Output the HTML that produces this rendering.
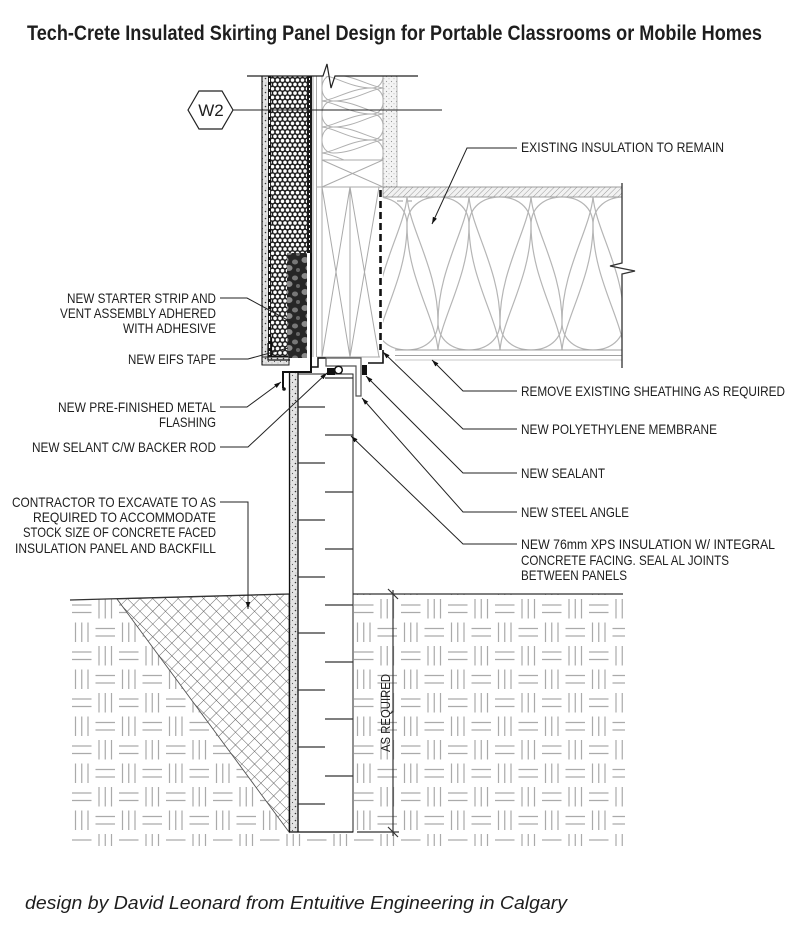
<!DOCTYPE html>
<html><head><meta charset="utf-8"><style>
html,body{margin:0;padding:0;background:#fff;}
svg{display:block;}
text{font-family:"Liberation Sans",sans-serif;fill:#1e1e1e;}
</style></head><body>
<svg width="800" height="933" viewBox="0 0 800 933" xmlns="http://www.w3.org/2000/svg">
<defs>
 <pattern id="soil" patternUnits="userSpaceOnUse" width="47" height="47" x="70" y="597">
  <g stroke="#aaaaaa" stroke-width="1.2" fill="none">
   <path d="M2 8H21.5M2 15.5H21.5"/>
   <path d="M29 2V21.5M35.25 2V21.5M41.5 2V21.5"/>
   <path d="M5.5 25.5V45M11.75 25.5V45M18 25.5V45"/>
   <path d="M25.5 31.5H45M25.5 39H45"/>
  </g>
 </pattern>
 <pattern id="hatch" patternUnits="userSpaceOnUse" width="9" height="9" patternTransform="rotate(45)">
  <rect width="9" height="9" fill="#fff"/>
  <path d="M0 0H9M0 0V9" stroke="#5a5a5a" stroke-width="0.9"/>
 </pattern>
 <pattern id="honey" patternUnits="userSpaceOnUse" width="5" height="8.66">
  <rect width="5" height="8.66" fill="#1c1c1c"/>
  <circle cx="2.5" cy="2.17" r="1.8" fill="#fff"/>
  <circle cx="0" cy="6.5" r="1.8" fill="#fff"/>
  <circle cx="5" cy="6.5" r="1.8" fill="#fff"/>
 </pattern>
 <pattern id="dots" patternUnits="userSpaceOnUse" width="6" height="7">
  <rect width="6" height="7" fill="#e4e4e4"/>
  <circle cx="1.5" cy="1.5" r="0.8" fill="#333"/>
  <circle cx="4.5" cy="4.5" r="0.6" fill="#555"/>
  <circle cx="2" cy="6" r="0.4" fill="#777"/>
 </pattern>
 <pattern id="rock" patternUnits="userSpaceOnUse" width="20" height="16">
  <rect width="20" height="16" fill="#262626"/>
  <ellipse cx="5" cy="4" rx="3.5" ry="3" fill="#8a8a8a"/>
  <ellipse cx="15" cy="6" rx="3" ry="2.5" fill="#777"/>
  <ellipse cx="9" cy="12" rx="3.5" ry="3" fill="#888"/>
  <ellipse cx="18" cy="14" rx="2" ry="2" fill="#666"/>
 </pattern>
 <pattern id="fhatch" patternUnits="userSpaceOnUse" width="4" height="4" patternTransform="rotate(45)">
  <rect width="4" height="4" fill="#f2f2f2"/>
  <path d="M0 0V4" stroke="#9a9a9a" stroke-width="1"/>
 </pattern>
 <pattern id="ldots" patternUnits="userSpaceOnUse" width="5" height="5">
  <rect width="5" height="5" fill="#f4f4f4"/>
  <circle cx="1.5" cy="1.5" r="0.6" fill="#999"/>
  <circle cx="4" cy="3.8" r="0.5" fill="#aaa"/>
 </pattern>
 <path id="tdT" vector-effect="non-scaling-stroke" d="M0,153 C-3,120 -31,80 -31,28 C-31,10 -17,0 0,0 C17,0 31,10 31,28 C31,80 3,120 0,153 Z"/>
 <path id="tdB" vector-effect="non-scaling-stroke" d="M0,0 C-3,33 -31,73 -31,125 C-31,143 -17,153 0,153 C17,153 31,143 31,125 C31,73 3,33 0,0 Z"/>
 <clipPath id="cb"><rect x="383" y="197" width="239" height="153"/></clipPath>
 <clipPath id="cu"><rect x="322" y="76" width="61" height="84"/></clipPath>
 <clipPath id="cs"><polygon points="70,600 289,594 625,594 625,846 70,846"/></clipPath>
 <marker id="ar" viewBox="0 0 10 10" refX="10" refY="5" markerWidth="7" markerHeight="7" orient="auto"><path d="M0,1.8 L10,5 L0,8.2 z" fill="#111"/></marker>
</defs>

<!-- Title -->
<text x="27" y="40" font-size="21" font-weight="bold" textLength="735" lengthAdjust="spacingAndGlyphs">Tech-Crete Insulated Skirting Panel Design for Portable Classrooms or Mobile Homes</text>

<!-- Soil -->
<rect x="70" y="594" width="555" height="252" fill="url(#soil)" clip-path="url(#cs)"/>
<!-- backfill -->
<polygon points="117,599 289,594 289,832" fill="url(#hatch)" stroke="#555" stroke-width="0.9"/>
<!-- ground lines -->
<path d="M70 600 L289 594" stroke="#333" stroke-width="1.3"/>
<path d="M353 594 H623" stroke="#333" stroke-width="1.3"/>

<!-- Panel -->
<rect x="298" y="374" width="55" height="458" fill="#fff" stroke="#222" stroke-width="1"/>
<rect x="289" y="372" width="9" height="460" fill="url(#dots)"/>
<path d="M289.5 372 V832 M298 372 V832 M289 832 H353" stroke="#111" stroke-width="1.3" fill="none"/>
<g stroke="#333" stroke-width="1.3">
 <path d="M325 378H353M325 435H353M325 492H353M325 549H353M325 605H353M325 662H353M325 719H353M325 776H353"/>
 <path d="M298 407H325M298 463H325M298 520H325M298 577H325M298 633H325M298 690H325M298 747H325M298 804H325"/>
</g>

<!-- Dimension -->
<g stroke="#333" stroke-width="1.2">
 <path d="M393 590 V836"/>
 <path d="M388 589 L398 599 M388 827 L398 837"/>
 <path d="M357 832 H399"/>
</g>
<text transform="translate(390,713) rotate(-90)" font-size="13" text-anchor="middle" textLength="78" lengthAdjust="spacingAndGlyphs">AS REQUIRED</text>

<!-- Floor structure -->
<rect x="383" y="76" width="14" height="111" fill="url(#ldots)" stroke="#aaa" stroke-width="0.8"/>
<rect x="383" y="187" width="239" height="10" fill="url(#fhatch)" stroke="#888" stroke-width="0.8"/>
<path d="M397 201 H412" stroke="#999" stroke-width="1" stroke-dasharray="6 3"/>
<g clip-path="url(#cb)" stroke="#b5b5b5" stroke-width="1.2" fill="none">
 <use href="#tdT" transform="translate(376,197)"/>
 <use href="#tdT" transform="translate(438,197)"/>
 <use href="#tdT" transform="translate(500,197)"/>
 <use href="#tdT" transform="translate(562,197)"/>
 <use href="#tdT" transform="translate(624,197)"/>
 <use href="#tdB" transform="translate(407,197)"/>
 <use href="#tdB" transform="translate(469,197)"/>
 <use href="#tdB" transform="translate(531,197)"/>
 <use href="#tdB" transform="translate(593,197)"/>
 <use href="#tdB" transform="translate(655,197)"/>
</g>
<g stroke="#a0a0a0" stroke-width="1" fill="none">
 <path d="M395 350 H622 M395 355.5 H622"/>
 <path d="M395 360 H622" stroke="#c8c8c8"/>
</g>
<path d="M622 183 V263 L610 266 L635 271 L622 274 V368" stroke="#333" stroke-width="1.3" fill="none"/>

<!-- Stud wall -->
<g stroke="#aaa" stroke-width="1" fill="none">
 <path d="M313 76 V357 M316.5 76 V357 M383 76 V187"/>
 <path d="M322 76 V357 M350 187 V357 M317 187 H383 M322 160 H383 M317 357 H380"/>
 <path d="M322 160 L383 187 M322 187 L383 160"/>
 <path d="M322 187 L350 357 M350 187 L322 357 M350 187 L379 357 M379 187 L350 357"/>
</g>
<g clip-path="url(#cu)" stroke="#b0b0b0" stroke-width="1" fill="none">
 <use href="#tdT" transform="matrix(0 0.42 0.4 0 322 62)"/>
 <use href="#tdT" transform="matrix(0 0.42 0.4 0 322 88)"/>
 <use href="#tdT" transform="matrix(0 0.42 0.4 0 322 114)"/>
 <use href="#tdT" transform="matrix(0 0.42 0.4 0 322 140)"/>
 <use href="#tdB" transform="matrix(0 0.42 0.4 0 322 75)"/>
 <use href="#tdB" transform="matrix(0 0.42 0.4 0 322 101)"/>
 <use href="#tdB" transform="matrix(0 0.42 0.4 0 322 127)"/>
 <use href="#tdB" transform="matrix(0 0.42 0.4 0 322 153)"/>
</g>
<!-- membrane -->
<path d="M380.5 190 V350" stroke="#111" stroke-width="2.6" stroke-dasharray="7 4"/>
<path d="M383 350 V363 H368" stroke="#111" stroke-width="1.6" fill="none"/>

<!-- EIFS -->
<rect x="262" y="76" width="6" height="289" fill="url(#dots)"/>
<rect x="268" y="76" width="3" height="281" fill="#111"/>
<path d="M269.5 78 V355" stroke="#fff" stroke-width="1.2" stroke-dasharray="4 3"/>
<rect x="271" y="76" width="36" height="177" fill="url(#honey)"/>
<rect x="271" y="253" width="16" height="104" fill="url(#honey)"/>
<rect x="287" y="253" width="20" height="105" fill="url(#rock)"/>
<rect x="307" y="76" width="5" height="177" fill="#1a1a1a"/>
<path d="M309.5 78 V251" stroke="#fff" stroke-width="1" stroke-dasharray="2 3"/>
<rect x="307" y="253" width="4" height="60" fill="#fff"/>
<rect x="262" y="357" width="27" height="8" fill="url(#dots)" stroke="#222" stroke-width="1"/>
<path d="M262 76 V365" stroke="#222" stroke-width="1.2"/>
<path d="M268 343 V360 H290 M271.5 338 V356.5 H288" stroke="#111" stroke-width="1.2" fill="none"/>
<path d="M311 253 V372 H283 V388" stroke="#111" stroke-width="2" fill="none"/>
<circle cx="284" cy="389" r="1.8" fill="#111"/>
<path d="M311 367 H318 V358 H326" stroke="#111" stroke-width="1.5" fill="none"/>

<!-- Steel angle, sealants -->
<path d="M326 358 H361 V396 H356 V366 H326 Z" fill="#fff" stroke="#555" stroke-width="1.2"/>
<rect x="327" y="368" width="8" height="7" fill="#111"/>
<circle cx="338.5" cy="370" r="3.8" fill="#fff" stroke="#111" stroke-width="1.5"/>
<rect x="362" y="365" width="5" height="10" fill="#111"/>

<!-- top line + break -->
<path d="M247 76 H323 L327 64 L331 88 L335 76 H418" stroke="#222" stroke-width="1.2" fill="none"/>

<!-- W2 -->
<path d="M233 110 H442" stroke="#222" stroke-width="1.1"/>
<polygon points="188,110 199,91 222,91 233,110 222,129 199,129" fill="#fff" stroke="#222" stroke-width="1.2"/>
<text x="211" y="116" font-size="17" text-anchor="middle">W2</text>

<!-- Leaders -->
<g stroke="#222" stroke-width="1" fill="none">
 <path d="M220 298 H247 L293 323"/>
 <path d="M220 359 H248 L288 348"/>
 <path d="M220 407 H247 L281 382" marker-end="url(#ar)"/>
 <path d="M220 447 H248 L327 373" marker-end="url(#ar)"/>
 <path d="M220 502 H248 V609" marker-end="url(#ar)"/>
 <path d="M517 148 H467 L432 224" marker-end="url(#ar)"/>
 <path d="M517 391 H463 L432 360" marker-end="url(#ar)"/>
 <path d="M517 429 H463 L383 352" marker-end="url(#ar)"/>
 <path d="M517 473 H463 L366 376" marker-end="url(#ar)"/>
 <path d="M517 512 H463 L362 398" marker-end="url(#ar)"/>
 <path d="M517 544 H463 L351 436" marker-end="url(#ar)"/>
</g>

<!-- Labels left -->
<g font-size="14">
 <text x="67" y="303" textLength="149" lengthAdjust="spacingAndGlyphs">NEW STARTER STRIP AND</text>
 <text x="60" y="318" textLength="156" lengthAdjust="spacingAndGlyphs">VENT ASSEMBLY ADHERED</text>
 <text x="123" y="333" textLength="93" lengthAdjust="spacingAndGlyphs">WITH ADHESIVE</text>
 <text x="128" y="364" textLength="88" lengthAdjust="spacingAndGlyphs">NEW EIFS TAPE</text>
 <text x="58" y="412" textLength="158" lengthAdjust="spacingAndGlyphs">NEW PRE-FINISHED METAL</text>
 <text x="159" y="427" textLength="57" lengthAdjust="spacingAndGlyphs">FLASHING</text>
 <text x="32" y="452" textLength="184" lengthAdjust="spacingAndGlyphs">NEW SELANT C/W BACKER ROD</text>
 <text x="12" y="507" textLength="204" lengthAdjust="spacingAndGlyphs">CONTRACTOR TO EXCAVATE TO AS</text>
 <text x="33" y="522" textLength="183" lengthAdjust="spacingAndGlyphs">REQUIRED TO ACCOMMODATE</text>
 <text x="23" y="537" textLength="193" lengthAdjust="spacingAndGlyphs">STOCK SIZE OF CONCRETE FACED</text>
 <text x="15" y="553" textLength="201" lengthAdjust="spacingAndGlyphs">INSULATION PANEL AND BACKFILL</text>
</g>
<!-- Labels right -->
<g font-size="14">
 <text x="521" y="152" textLength="203" lengthAdjust="spacingAndGlyphs">EXISTING INSULATION TO REMAIN</text>
 <text x="521" y="396" textLength="264" lengthAdjust="spacingAndGlyphs">REMOVE EXISTING SHEATHING AS REQUIRED</text>
 <text x="521" y="434" textLength="196" lengthAdjust="spacingAndGlyphs">NEW POLYETHYLENE MEMBRANE</text>
 <text x="521" y="478" textLength="84" lengthAdjust="spacingAndGlyphs">NEW SEALANT</text>
 <text x="521" y="517" textLength="108" lengthAdjust="spacingAndGlyphs">NEW STEEL ANGLE</text>
 <text x="521" y="549" textLength="254" lengthAdjust="spacingAndGlyphs">NEW 76mm XPS INSULATION W/ INTEGRAL</text>
 <text x="521" y="565" textLength="208" lengthAdjust="spacingAndGlyphs">CONCRETE FACING. SEAL AL JOINTS</text>
 <text x="521" y="580" textLength="106" lengthAdjust="spacingAndGlyphs">BETWEEN PANELS</text>
</g>

<!-- Caption -->
<text x="25" y="909" font-size="18" font-style="italic" textLength="542" lengthAdjust="spacingAndGlyphs">design by David Leonard from Entuitive Engineering in Calgary</text>
</svg>
</body></html>
